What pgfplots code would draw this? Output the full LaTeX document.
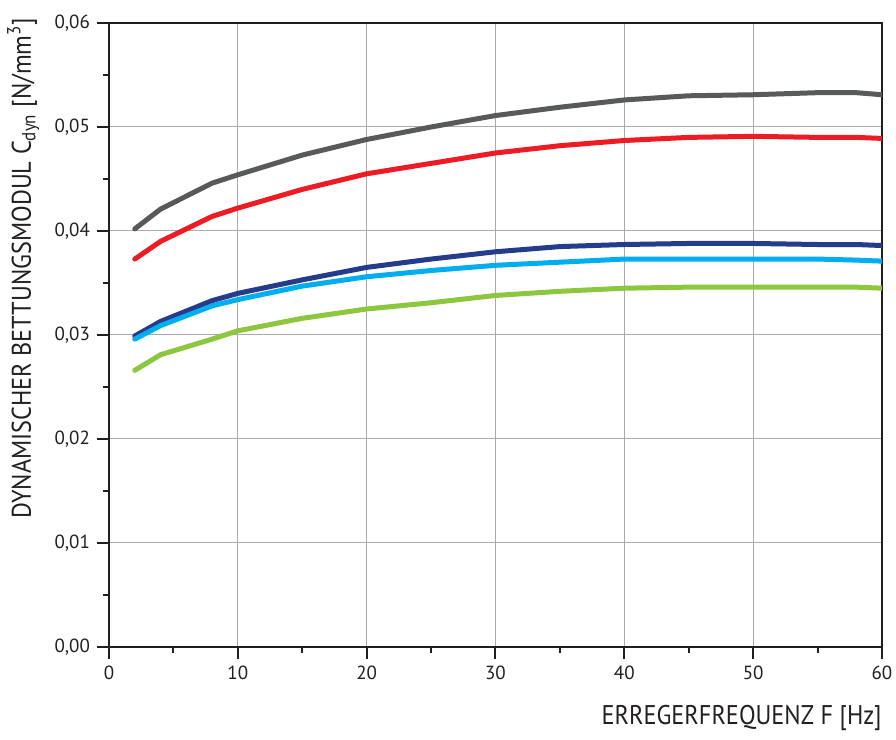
\documentclass[border=0pt]{standalone}
\usepackage{fontspec}
\setmainfont{PT Sans}
\newfontfamily\condfont[FakeStretch=0.9]{PT Sans}
\usepackage{pgfplots}
\usepackage{pgfplotstable}
\pgfplotsset{compat=1.18}
\usetikzlibrary{calc}

\definecolor{axisblack}{RGB}{35,31,32}
\definecolor{gridgray}{RGB}{170,170,175}
\definecolor{cgray}{RGB}{88,89,91}
\definecolor{cred}{RGB}{237,28,36}
\definecolor{cdblue}{RGB}{37,60,140}
\definecolor{clblue}{RGB}{0,174,239}
\definecolor{cgreen}{RGB}{141,198,63}

% F [Hz], then one column per curve
\pgfplotstableread{
F   gray    red     dblue   lblue   green
2   0.0402  0.0373  0.0299  0.0296  0.0266
4   0.0421  0.0390  0.0313  0.0309  0.0281
8   0.0446  0.0414  0.0333  0.0328  0.0296
10  0.0454  0.0422  0.0340  0.0334  0.0304
15  0.0473  0.0440  0.0353  0.0347  0.0316
20  0.0488  0.0455  0.0365  0.0356  0.0325
25  0.0500  0.0465  0.0373  0.0362  0.0331
30  0.0511  0.0475  0.0380  0.0367  0.0338
35  0.0519  0.0482  0.0385  0.0370  0.0342
40  0.0526  0.0487  0.0387  0.0373  0.0345
45  0.0530  0.0490  0.0388  0.0373  0.0346
50  0.0531  0.0491  0.0388  0.0373  0.0346
55  0.0533  0.0490  0.0387  0.0373  0.0346
58  0.0533  0.0490  0.0387  0.0372  0.0346
60  0.0531  0.0489  0.0386  0.0371  0.0345
}\cdyn

\begin{document}
\begin{tikzpicture}
\begin{axis}[
    scale only axis,
    width=386.5pt, height=312pt,
    xmin=0, xmax=60, ymin=0, ymax=0.06,
    xtick={0,10,20,30,40,50,60},
    minor xtick={5,15,25,35,45,55},
    ytick={0,0.01,0.02,0.03,0.04,0.05,0.06},
    minor ytick={0.005,0.015,0.025,0.035,0.045,0.055},
    scaled y ticks=false,
    yticklabel style={/pgf/number format/.cd, fixed, fixed zerofill, precision=2, use comma},
    /pgf/number format/assume math mode=true,
    tick label style={font=\fontsize{9.5}{11}\selectfont, text=axisblack},
    grid=major,
    major grid style={gridgray, line width=0.5pt},
    axis line style={axisblack, line width=1pt},
    tick pos=left, tick align=outside,
    major tick length=6pt, minor tick length=3pt,
    every tick/.style={axisblack, line width=1pt},
    xlabel={\condfont ERREGERFREQUENZ F [Hz]},
    ylabel={\condfont DYNAMISCHER BETTUNGSMODUL C\textsubscript{dyn}\ [N/mm\textsuperscript{3}]},
    label style={font=\fontsize{13.5}{15}\selectfont, text=axisblack},
    xlabel style={at={(axis description cs:1,-0.114)}, anchor=east, inner sep=0pt},
    ylabel style={at={(axis description cs:-0.111,0.607)}, anchor=center, rotate=0},
    every axis plot/.append style={line width=2.5pt, line join=round, line cap=round},
]
\addplot[cgray] table[x=F, y=gray] {\cdyn};
\addplot[cred] table[x=F, y=red] {\cdyn};
\addplot[cdblue] table[x=F, y=dblue] {\cdyn};
\addplot[clblue] table[x=F, y=lblue] {\cdyn};
\addplot[cgreen] table[x=F, y=green] {\cdyn};
\end{axis}
\pgfresetboundingbox
\useasboundingbox ($(current axis.south west)+(-54.5pt,-46.5pt)$) rectangle ($(current axis.north east)+(7pt,11.5pt)$);
\end{tikzpicture}
\end{document}
